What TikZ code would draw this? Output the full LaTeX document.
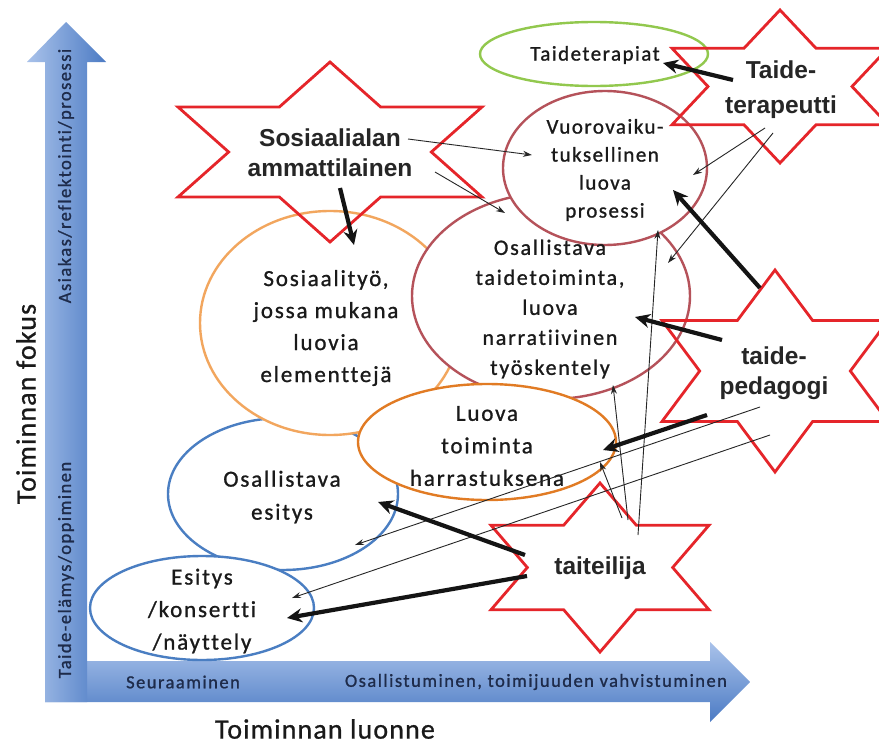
\documentclass[tikz,border=0pt]{standalone}
\usepackage{fontspec}
\setmainfont{Carlito}
\newfontfamily\ellfont[LetterSpace=8,Ligatures=NoCommon,FakeBold=1.0]{Carlito}
\newfontfamily\ellfontsm[LetterSpace=7,Ligatures=NoCommon,FakeBold=1.0]{Carlito}
\newfontfamily\axfont[LetterSpace=8,Ligatures=NoCommon,FakeBold=1.0]{Carlito}
\newfontfamily\bigfont[LetterSpace=4,Ligatures=NoCommon,FakeBold=0.8]{Carlito}
\newfontfamily\starfont{Liberation Sans}
\usetikzlibrary{shapes.geometric,arrows.meta}
\definecolor{starred}{HTML}{E5252A}
\definecolor{ellred}{HTML}{B5525A}
\definecolor{ellgreen}{HTML}{92C84E}
\definecolor{orangeL}{HTML}{F2A65E}
\definecolor{orangeD}{HTML}{E17B24}
\definecolor{ellblue}{HTML}{4A7EC2}
\definecolor{arrL}{HTML}{A9C2EA}
\definecolor{arrD}{HTML}{4C7BC4}
\definecolor{navy}{HTML}{1E2B4A}
\definecolor{txt}{HTML}{1A1A1A}
\newcommand\hexstar[4]{%
 \draw[starline] ({#1},{#2-#4}) -- ({#1+#3/3},{#2-#4/2}) -- ({#1+#3},{#2-#4/2}) -- ({#1+2*#3/3},{#2}) -- ({#1+#3},{#2+#4/2}) -- ({#1+#3/3},{#2+#4/2}) -- ({#1},{#2+#4}) -- ({#1-#3/3},{#2+#4/2}) -- ({#1-#3},{#2+#4/2}) -- ({#1-2*#3/3},{#2}) -- ({#1-#3},{#2-#4/2}) -- ({#1-#3/3},{#2-#4/2}) -- cycle;}
\begin{document}
\begin{tikzpicture}[x=1pt,y=-1pt,
  ell/.style={ellipse, inner sep=0pt, line width=2.4pt, fill=white},
  elltext/.style={align=center, text=txt, inner sep=0pt, font=\ellfont\fontsize{23}{32.5}\selectfont},
  startext/.style={align=center, text=black!85, inner sep=0pt, font=\starfont\bfseries\fontsize{24.5}{30}\selectfont},
  axtext/.style={text=navy, inner sep=0pt, font=\axfont\fontsize{18.5}{20}\selectfont},
  bigtext/.style={text=black!90, inner sep=0pt, font=\bigfont\fontsize{28}{30}\selectfont},
  starline/.style={draw=starred, line width=2.8pt},
  thickarr/.style={draw=black!92, line width=4.2pt, -{Stealth[length=15pt,width=14pt]}},
  thinarr/.style={draw=black!85, line width=0.9pt, -{Stealth[length=9pt,width=6pt]}}]
\useasboundingbox (0,0) rectangle (879,744);
\fill[white] (0,0) rectangle (879,744);
\clip (0,0) rectangle (879,744);
% axes
\shade[top color=arrL, bottom color=arrD] (45,661) -- (710,661) -- (710,642) -- (750,682) -- (710,722) -- (710,702) -- (45,702) -- cycle;
\shade[left color=arrL, right color=arrD] (45,702) -- (45,62) -- (27,62) -- (66,22) -- (106,62) -- (87,62) -- (87,702) -- cycle;
\node[axtext, rotate=90] (axUp) at (66,176) {Asiakas/reflektointi/prosessi};
\node[axtext, rotate=90] (axLow) at (66,570) {Taide-elämys/oppiminen};
\node[axtext] (axSeu) at (183,682) {Seuraaminen};
\node[axtext] (axOsa) at (536,682) {Osallistuminen, toimijuuden vahvistuminen};
\node[bigtext, rotate=90] (fokus) at (26,404) {Toiminnan fokus};
\node[bigtext] (luonne) at (325,729) {Toiminnan luonne};
% ellipses
\node[ell, draw=ellgreen, minimum width=228pt, minimum height=64pt] (eTer) at (594,54) {};
\node[ell, draw=ellblue, minimum width=230pt, minimum height=152pt] (eEsi1) at (283,494) {};
\node[ell, draw=ellblue, minimum width=224pt, minimum height=104pt] (eEsi2) at (202,608) {};
\node[ell, draw=orangeL, minimum width=260pt, minimum height=224pt] (eSos) at (330,323) {};
\node[ell, draw=ellred, minimum width=278pt, minimum height=206pt] (eOsa) at (551,296) {};
\node[ell, draw=ellred, minimum width=204pt, minimum height=154pt] (eVuo) at (605,168) {};
\node[ell, draw=orangeD, minimum width=258pt, minimum height=116pt] (eLuo) at (487,442) {};
% ellipse texts
\node[elltext, font=\ellfontsm\fontsize{21}{28}\selectfont] (tTer) at (595,55) {Taideterapiat};
\node[elltext, font=\ellfontsm\fontsize{21}{28}\selectfont] (tVuo) at (605,170) {Vuorovaiku-\\tuksellinen\\luova\\prosessi};
\node[elltext, font=\ellfont\fontsize{22}{30}\selectfont] (tOsa) at (550,309) {Osallistava\\taidetoiminta,\\luova\\narratiivinen\\työskentely};
\node[elltext, font=\ellfont\fontsize{23}{32}\selectfont] (tSos) at (326,328) {Sosiaalityö,\\jossa mukana\\luovia\\elementtejä};
\node[elltext] (tLuo) at (487,446) {Luova\\toiminta\\harrastuksena};
\node[elltext, font=\ellfont\fontsize{23}{33}\selectfont] (tEsi1) at (282,497) {Osallistava\\esitys};
\node[elltext] (tEsi2) at (202,611) {Esitys\\/konsertti\\/näyttely};
% stars
\hexstar{330}{152}{152}{90}
\hexstar{780}{86.5}{108}{76.5}
\hexstar{775}{371}{113}{101}
\hexstar{600}{567.5}{109}{84.5}
\node[startext] (sSos) at (330,153) {Sosiaalialan\\ammattilainen};
\node[startext, font=\starfont\bfseries\fontsize{24.5}{35}\selectfont] (sTer) at (781,90) {Taide-\\terapeutti};
\node[startext] (sPed) at (774,373) {taide-\\pedagogi};
\node[startext] (sTai) at (600,568) {taiteilija};
% connector end points
\coordinate (sSosA) at (340,188); \coordinate (eSosA) at (354,245);
\coordinate (sSosB) at (408,139); \coordinate (eVuoA) at (532,155);
\coordinate (sSosC) at (435,172); \coordinate (eOsaA) at (505,213);
\coordinate (sTerA) at (733,80);  \coordinate (eTerA) at (663,63);
\coordinate (sTerB) at (765,128); \coordinate (eVuoB) at (693,175);
\coordinate (sTerC) at (773,133); \coordinate (eOsaB) at (668,263);
\coordinate (sPedA) at (760,288); \coordinate (eVuoC) at (673,190);
\coordinate (sPedB) at (722,340); \coordinate (eOsaC) at (635,317);
\coordinate (sPedC) at (707,415); \coordinate (eLuoA) at (603,450);
\coordinate (sPedD) at (760,407); \coordinate (eEsi1A) at (355,545);
\coordinate (sPedE) at (770,435); \coordinate (eEsi2A) at (292,598);
\coordinate (sTaiA) at (525,555); \coordinate (eEsi1B) at (378,502);
\coordinate (sTaiB) at (527,576); \coordinate (eEsi2B) at (287,618);
\coordinate (sTaiC) at (622,518); \coordinate (eLuoB) at (600,462);
\coordinate (sTaiD) at (628,520); \coordinate (eOsaD) at (613,385);
\coordinate (sTaiE) at (638,535); \coordinate (eVuoD) at (658,230);
% thin connectors
\draw[thinarr] (sSosB) -- (eVuoA);
\draw[thinarr] (sSosC) -- (eOsaA);
\draw[thinarr] (sTerB) -- (eVuoB);
\draw[thinarr] (sTerC) -- (eOsaB);
\draw[thinarr] (sPedD) -- (eEsi1A);
\draw[thinarr] (sPedE) -- (eEsi2A);
\draw[thinarr] (sTaiC) -- (eLuoB);
\draw[thinarr] (sTaiD) -- (eOsaD);
\draw[thinarr] (sTaiE) -- (eVuoD);
% thick connectors
\draw[thickarr] (sSosA) -- (eSosA);
\draw[thickarr] (sTerA) -- (eTerA);
\draw[thickarr] (sPedA) -- (eVuoC);
\draw[thickarr] (sPedB) -- (eOsaC);
\draw[thickarr] (sPedC) -- (eLuoA);
\draw[thickarr] (sTaiA) -- (eEsi1B);
\draw[thickarr] (sTaiB) -- (eEsi2B);
\end{tikzpicture}
\end{document}
